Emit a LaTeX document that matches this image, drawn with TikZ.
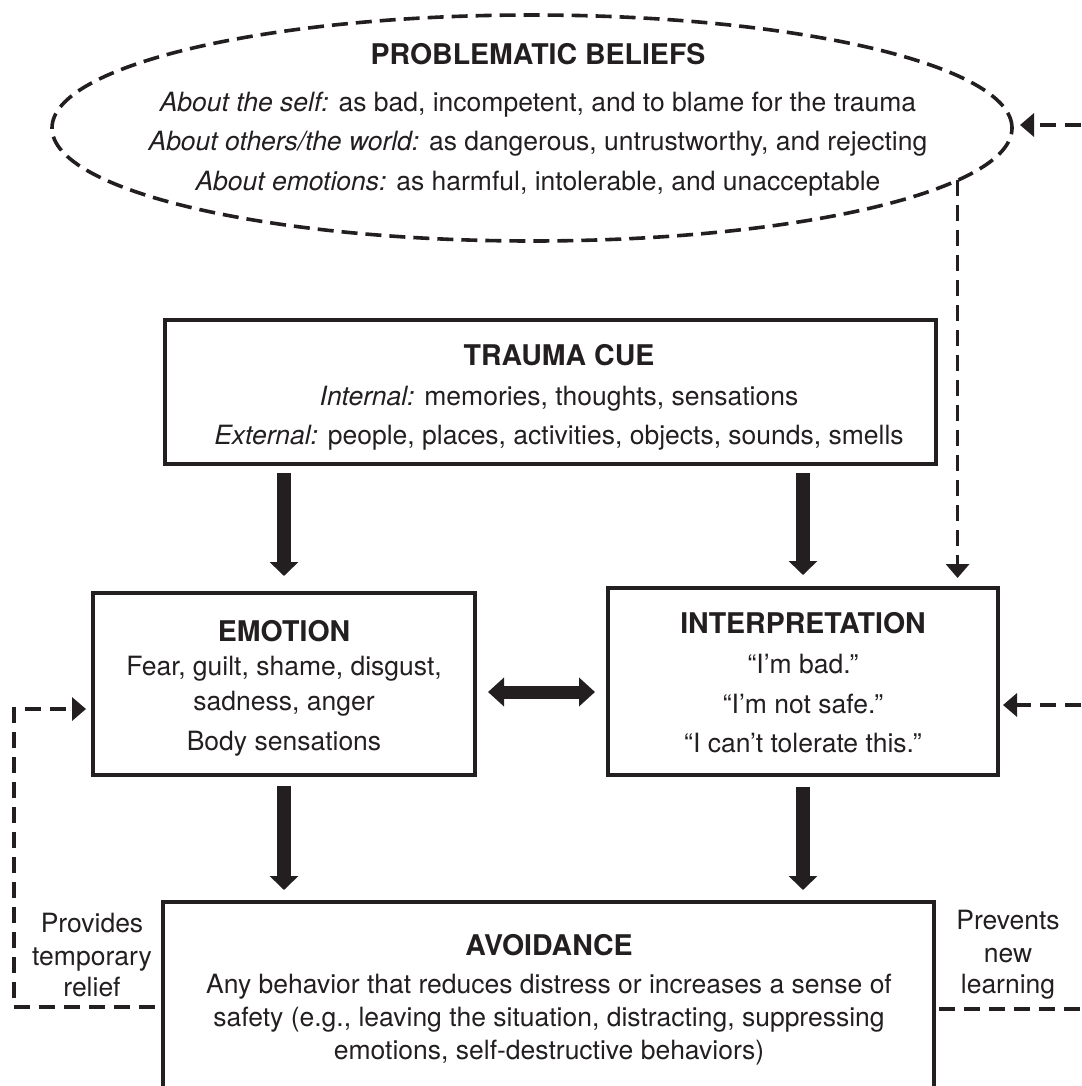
\documentclass[tikz,border=0pt]{standalone}
\usepackage{fontspec}
\setmainfont{TeX Gyre Heros}
\usetikzlibrary{arrows.meta,shapes.geometric,calc}
\definecolor{ink}{RGB}{35,31,32}
\tikzset{
  box/.style={draw=ink, line width=3.3pt, rectangle, inner sep=0pt, outer sep=0pt},
  oval/.style={draw=ink, line width=3.6pt, ellipse, inner sep=0pt, outer sep=0pt, dash pattern=on 16pt off 8pt},
  txt/.style={inner sep=0pt, anchor=base, text=ink, font=\fontsize{26.5}{30}\selectfont},
  ttl/.style={inner sep=0pt, anchor=base, text=ink, font=\fontsize{28.5}{32}\selectfont\bfseries},
  bigarrow/.style={draw=ink, line width=14pt, -{Triangle[width=28pt,length=14pt]}},
  dblarrow/.style={draw=ink, line width=13pt, {Triangle[width=28pt,length=16pt]}-{Triangle[width=28pt,length=16pt]}},
  dashline/.style={draw=ink, line width=3.7pt, dash pattern=on 16pt off 9pt},
  dasharrow/.style={dashline, -{Triangle[width=23pt,length=14pt]}}
}
\begin{document}
\begin{tikzpicture}[x=1pt,y=-1pt]
\useasboundingbox (0,0) rectangle (1081,1086);

% shapes
\node[oval, minimum width=960pt, minimum height=226pt] (beliefs) at (532,128) {};
\node[box, minimum width=771pt, minimum height=144pt] (trauma) at (550.5,392) {};
\node[box, minimum width=382pt, minimum height=182pt] (emotion) at (284,684) {};
\node[box, minimum width=390pt, minimum height=187pt] (interp) at (803,681.5) {};
\node[box, minimum width=771pt, minimum height=200pt] (avoid) at (548.5,1002) {};

% texts: beliefs
\node[ttl] (bt) at (538,65) {PROBLEMATIC BELIEFS};
\node[txt] (b1) at (538,112) {{\itshape About the self:} as bad, incompetent, and to blame for the trauma};
\node[txt] (b2) at (538,151) {{\itshape About others/the world:} as dangerous, untrustworthy, and rejecting};
\node[txt] (b3) at (538,190) {{\itshape About emotions:} as harmful, intolerable, and unacceptable};

% trauma cue
\node[ttl] (tt) at (559,365) {TRAUMA CUE};
\node[txt] (t1) at (559,405) {{\itshape Internal:} memories, thoughts, sensations};
\node[txt] (t2) at (559,444) {{\itshape External:} people, places, activities, objects, sounds, smells};

% emotion
\node[ttl] (et) at (284,641) {EMOTION};
\node[txt] (e1) at (284,675) {Fear, guilt, shame, disgust,};
\node[txt] (e2) at (284,710) {sadness, anger};
\node[txt] (e3) at (284,750) {Body sensations};

% interpretation
\node[ttl] (it) at (803,633) {INTERPRETATION};
\node[txt] (i1) at (803,673) {“I’m bad.”};
\node[txt] (i2) at (803,713) {“I’m not safe.”};
\node[txt] (i3) at (803,752) {“I can’t tolerate this.”};

% avoidance
\node[ttl] (at) at (549,955) {AVOIDANCE};
\node[txt] (a1) at (549,993) {Any behavior that reduces distress or increases a sense of};
\node[txt] (a2) at (549,1026) {safety (e.g., leaving the situation, distracting, suppressing};
\node[txt] (a3) at (549,1059) {emotions, self-destructive behaviors)};

% side labels
\node[txt] (p1) at (92,932) {Provides};
\node[txt] (p2) at (92,965) {temporary};
\node[txt] (p3) at (92,996) {relief};
\node[txt] (n1) at (1008,929) {Prevents};
\node[txt] (n2) at (1008,962) {new};
\node[txt] (n3) at (1008,993) {learning};

% solid arrows
\draw[bigarrow, shorten <=9pt, shorten >=17pt] (emotion.north |- trauma.south) -- (emotion.north);
\draw[bigarrow, shorten <=9pt, shorten >=13pt] (interp.north |- trauma.south) -- (interp.north);
\draw[bigarrow, shorten <=11pt, shorten >=12pt] (emotion.south) -- (emotion.south |- avoid.north);
\draw[bigarrow, shorten <=12pt, shorten >=12pt] (interp.south) -- (interp.south |- avoid.north);
\coordinate (dy) at (0,692);
\draw[dblarrow] ([xshift=13pt]emotion.east |- dy) -- ([xshift=-13pt]interp.west |- dy);

% dashed connectors
\draw[dasharrow, shorten >=10pt] (beliefs.-7) -- (beliefs.-7 |- interp.north);
\coordinate (rt) at (1081,125);
\draw[dasharrow, shorten >=8pt] (rt) -- (beliefs.east |- rt);
\coordinate (rm) at (1081,705);
\draw[dasharrow, shorten >=5pt] (rm) -- (interp.east |- rm);
\coordinate (rb) at (1081,1009);
\draw[dashline] ([xshift=5pt]avoid.east |- rb) -- (rb);
\coordinate (lb) at (14,1007);
\coordinate (lt) at (14,709);
\draw[dasharrow] ([xshift=-8pt]avoid.west |- lb) -- (lb) -- (lt) -- ([xshift=-7pt]emotion.west |- lt);
\end{tikzpicture}
\end{document}
